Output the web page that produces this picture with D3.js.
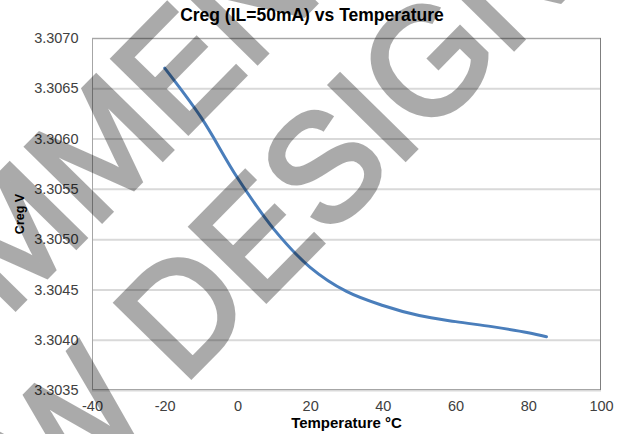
<!DOCTYPE html>
<html><head><meta charset="utf-8">
<script src="https://cdn.jsdelivr.net/npm/d3@7"></script>
<style>body{margin:0;background:#fff}svg{display:block}</style>
</head><body>
<svg id="c" width="623" height="434"></svg>
<script>
// ---- data ----
const temps = [-20, -10, 0, 10, 20, 30, 40, 50, 60, 70, 80, 85];
const creg  = [3.30670, 3.30621, 3.30561, 3.30510, 3.30472, 3.30448, 3.30434, 3.30424, 3.30418, 3.30413, 3.30407, 3.30403];
const xTicks = [-40, -20, 0, 20, 40, 60, 80, 100];
const yTicks = [3.3035, 3.3040, 3.3045, 3.3050, 3.3055, 3.3060, 3.3065, 3.3070];
const titleText = "Creg (IL=50mA) vs Temperature";
const xTitle = "Temperature °C";
const yTitle = "Creg V";
const watermarkLines = ["NOT RECOMMENDED FOR", "NEW DESIGNS"];

// ---- layout ----
const W = 623, H = 434;
const P = {l: 92, r: 601, t: 38, b: 390};
const FONT = "'Liberation Sans', Arial, sans-serif";
const svg = d3.select("#c");
svg.append("rect").attr("width", W).attr("height", H).attr("fill", "#fff");

const x = d3.scaleLinear().domain([-40, 100]).range([P.l, P.r]);
const y = d3.scaleLinear().domain([3.3035, 3.3070]).range([P.b, P.t]);

// gridlines
const grid = svg.append("g").attr("transform", `translate(${P.l},0)`)
  .call(d3.axisLeft(y).tickValues(yTicks).tickSize(-(P.r - P.l)).tickFormat(""));
grid.select(".domain").remove();
grid.selectAll("line").attr("stroke", "#d9d9d9").attr("stroke-width", 2);

// border
svg.append("rect").attr("x", P.l + 0.5).attr("y", P.t + 0.5)
  .attr("width", P.r - P.l - 1).attr("height", P.b - P.t - 1)
  .attr("fill", "none").attr("stroke", "#a6a6a6").attr("stroke-width", 1);
svg.append("line").attr("x1", P.r - 0.5).attr("x2", P.r - 0.5).attr("y1", P.t).attr("y2", P.b)
  .attr("stroke", "#7f7f7f");

// y axis labels
const ya = svg.append("g").attr("transform", `translate(${P.l},0)`)
  .call(d3.axisLeft(y).tickValues(yTicks).tickSize(0).tickPadding(13.5).tickFormat(d3.format(".4f")));
ya.select(".domain").remove();
ya.selectAll("text").attr("font-family", FONT).attr("font-size", 14.5).attr("fill", "#404040");

// x axis labels
const xa = svg.append("g").attr("transform", `translate(0,${P.b})`)
  .call(d3.axisBottom(x).tickValues(xTicks).tickSize(0).tickPadding(11).tickFormat(d => String(d)));
xa.select(".domain").remove();
xa.selectAll("text").attr("font-family", FONT).attr("font-size", 14.5).attr("fill", "#404040");

// curve
const line = d3.line().x((d, i) => x(temps[i])).y(d => y(d)).curve(d3.curveCatmullRom.alpha(0.5));
svg.append("path").datum(creg).attr("d", line)
  .attr("fill", "none").attr("stroke", "#4a7ebb").attr("stroke-width", 3)
  .attr("stroke-linecap", "round").attr("stroke-linejoin", "round");

// titles
svg.append("text").text(titleText).attr("x", 312).attr("y", 21)
  .attr("text-anchor", "middle").attr("font-family", FONT).attr("font-weight", "bold")
  .attr("font-size", 17.5).attr("fill", "#000");
svg.append("text").text(xTitle).attr("x", (P.l + P.r) / 2).attr("y", 428)
  .attr("text-anchor", "middle").attr("font-family", FONT).attr("font-weight", "bold")
  .attr("font-size", 15).attr("fill", "#000");
svg.append("text").text(yTitle)
  .attr("transform", `translate(24,${(P.t + P.b) / 2}) rotate(-90)`)
  .attr("text-anchor", "middle").attr("font-family", FONT).attr("font-weight", "bold")
  .attr("font-size", 12.5).attr("fill", "#000");

// watermark
const WM = {angle: 45.5, size: 153, sx: 0.967, stroke: 5, lsb: 0.079};
const wmAnchors = [{idx: 10, cx: 188, cy: 133}, {idx: 4, cx: 191, cy: 377}];
const rad = WM.angle * Math.PI / 180;
watermarkLines.forEach((s, i) => {
  const a = wmAnchors[i];
  const l = WM.lsb * WM.size * WM.sx;
  const ox = a.cx - l * Math.cos(rad), oy = a.cy + l * Math.sin(rad);
  const g = svg.append("g").attr("opacity", 0.33)
    .attr("transform", `translate(${ox},${oy}) rotate(${-WM.angle}) scale(${WM.sx},1)`);
  const t = g.append("text").text(s).attr("font-family", FONT).attr("font-size", WM.size)
    .attr("fill", "#000").attr("stroke", "#000").attr("stroke-width", WM.stroke)
    .attr("stroke-linejoin", "miter");
  const pre = t.node().getSubStringLength(0, a.idx);
  t.attr("x", -pre);
});
</script>
</body></html>
